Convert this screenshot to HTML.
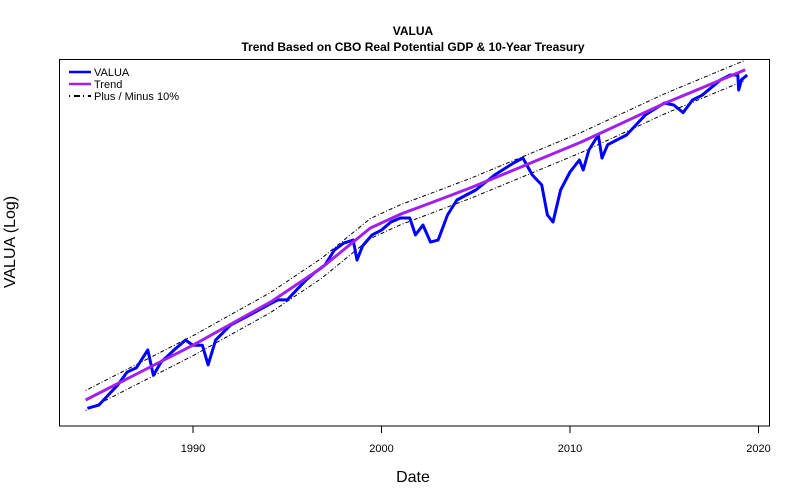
<!DOCTYPE html>
<html><head><meta charset="utf-8"><style>
body{margin:0;background:#fff;}
svg{display:block;font-family:"Liberation Sans",Arial,sans-serif;}
</style></head><body>
<svg id="chart" width="800" height="500">
<text x="413" y="35" text-anchor="middle" font-size="12" font-weight="bold">VALUA</text>
<text x="413" y="51" text-anchor="middle" font-size="12" font-weight="bold">Trend Based on CBO Real Potential GDP &amp; 10-Year Treasury</text>
<text transform="translate(15,242) rotate(-90)" text-anchor="middle" font-size="16">VALUA (Log)</text>
<text x="413" y="482" text-anchor="middle" font-size="16">Date</text>
<rect x="59.5" y="59.5" width="710" height="366.5" fill="none" stroke="#000"/>
<g id="xaxis"></g>
<g id="marks"></g>
<g>
<line x1="69" y1="72" x2="91" y2="72" stroke="#0000ff" stroke-width="2.5"/>
<text x="94" y="76" font-size="11">VALUA</text>
<line x1="69" y1="84" x2="91" y2="84" stroke="#a020f0" stroke-width="2.5"/>
<text x="94" y="88" font-size="11">Trend</text>
<line x1="69" y1="96" x2="91" y2="96" stroke="#000" stroke-width="2" stroke-dasharray="1,4,6,3"/>
<text x="94" y="100" font-size="11">Plus / Minus 10%</text>
</g>
</svg>
<script>
const years=[1984.4,1985,1985.5,1986,1986.5,1987,1987.6,1987.9,1988.3,1989,1989.6,1990,1990.5,1990.8,1991.2,1992,1993,1994,1994.5,1995,1995.5,1996,1996.5,1997,1997.5,1998,1998.5,1998.7,1999,1999.5,2000,2000.5,2001,2001.5,2001.8,2002.2,2002.6,2003,2003.5,2004,2005,2006,2007,2007.5,2008,2008.5,2008.8,2009.1,2009.5,2010,2010.5,2010.7,2011,2011.5,2011.7,2012,2013,2014,2015,2015.5,2016,2016.5,2017,2018,2018.5,2018.9,2018.95,2019.1,2019.4];
const valua=[92,95,105,116,132,138,165,128,146,165,182,173,173,142,182,212,234,259,272,272,301,332,360,386,448,480,495,405,467,521,547,593,617,617,521,575,485,495,636,739,817,949,1070,1125,949,859,636,593,817,978,1102,997,1218,1415,1125,1284,1415,1730,1950,1910,1770,2009,2105,2460,2580,2580,2220,2460,2580];
const trendYears=[1984.3,1990,1994.1,1996.8,1999.4,2001,2002.6,2004.7,2007.4,2010.6,2015,2019.3];
const trend=[100,173,266,374,558,641,717,833,1028,1320,1940,2718];
const bandPct=0.10;
const xTicks=[1990,2000,2010,2020];

const NS="http://www.w3.org/2000/svg";
function xs(y){return 193+(y-1990)*18.85;}
function ys(v){return 400-100*Math.log(v/100);}
const marks=document.getElementById('marks');
const xaxis=document.getElementById('xaxis');
xTicks.forEach(t=>{
  const l=document.createElementNS(NS,'line');
  l.setAttribute('x1',xs(t));l.setAttribute('x2',xs(t));l.setAttribute('y1',426);l.setAttribute('y2',433);l.setAttribute('stroke','#000');
  
  
  xaxis.appendChild(l);
  const tx=document.createElementNS(NS,'text');
  tx.setAttribute('x',xs(t));tx.setAttribute('y',452);tx.setAttribute('text-anchor','middle');tx.setAttribute('font-size','11');
  tx.textContent=t;
  
  
  xaxis.appendChild(tx);
});
function path(xsArr,vals,f,stroke,w,dash,name){
  const p=document.createElementNS(NS,'path');
  p.setAttribute('d',xsArr.map((x,i)=>(i?'L':'M')+xs(x).toFixed(1)+','+ys(vals[i]*f).toFixed(1)).join(''));
  p.setAttribute('fill','none');p.setAttribute('stroke',stroke);p.setAttribute('stroke-width',w);
  p.setAttribute('stroke-linejoin','round');
  if(dash)p.setAttribute('stroke-dasharray',dash);
  
  
  marks.appendChild(p);
}
path(trendYears,trend,1+bandPct,'#000',1,'1,2,4,2','upper-band');
path(trendYears,trend,1-bandPct,'#000',1,'1,2,4,2','lower-band');
path(years,valua,1,'#0000ff',3,null,'valua-line');
path(trendYears,trend,1,'#a020f0',3,null,'trend-line');
</script>
</body></html>
